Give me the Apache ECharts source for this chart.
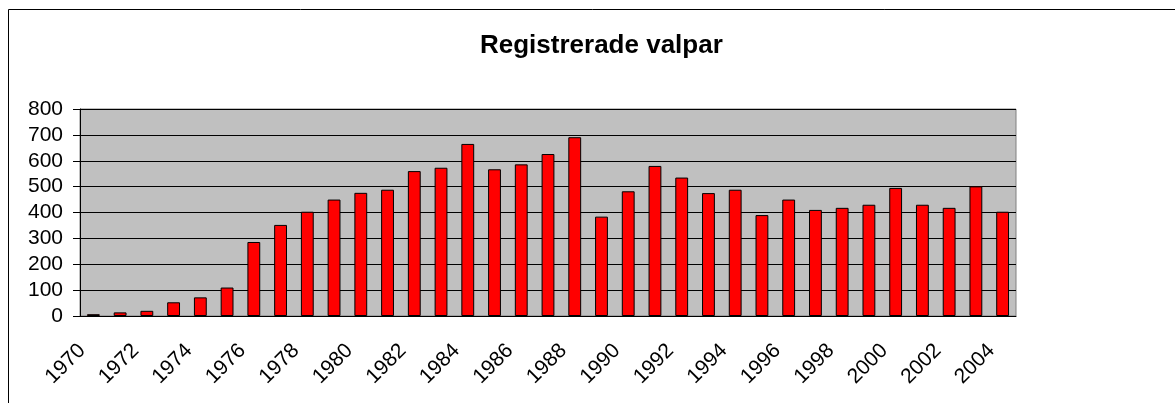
<!DOCTYPE html>
<html>
<head>
<meta charset="utf-8">
<title>Registrerade valpar</title>
<script src="https://cdn.jsdelivr.net/npm/echarts@6/dist/echarts.min.js"></script>
<style>
  html, body { margin: 0; padding: 0; background: #fff; }
  #chart { width: 1175px; height: 403px; }
</style>
</head>
<body>
<div id="chart"></div>
<script>
// år och antal registrerade valpar
const years = ['1970', '1971', '1972', '1973', '1974', '1975', '1976', '1977', '1978', '1979',
  '1980', '1981', '1982', '1983', '1984', '1985', '1986', '1987', '1988', '1989',
  '1990', '1991', '1992', '1993', '1994', '1995', '1996', '1997', '1998', '1999',
  '2000', '2001', '2002', '2003', '2004'];
const puppies = [7, 14, 20, 53, 72, 110, 286, 352, 403, 450,
  476, 488, 560, 573, 665, 567, 586, 626, 691, 384,
  482, 580, 535, 475, 488, 390, 450, 410, 418, 430,
  495, 430, 418, 501, 403];
const yTicks = [0, 100, 200, 300, 400, 500, 600, 700, 800];

const font = "'Liberation Sans', Arial, sans-serif";

let myChart = echarts.init(document.getElementById('chart'));

let option = {
  animation: false,
  textStyle: { fontFamily: font, color: '#000' },
  title: {
    text: 'Registrerade valpar',
    left: 475,
    top: 28,
    textStyle: { fontFamily: font, fontSize: 26, fontWeight: 'bold', color: '#000' }
  },
  // yttre ram
  graphic: [{
    type: 'rect',
    shape: { x: 8.5, y: 9.5, width: 1200, height: 500 },
    style: { fill: 'none', stroke: '#000', lineWidth: 1 },
    silent: true
  }],
  grid: {
    left: 80,
    right: 159,
    top: 109,
    bottom: 87,
    show: true,
    backgroundColor: '#c0c0c0',
    borderColor: '#808080',
    borderWidth: 1
  },
  xAxis: {
    type: 'category',
    data: years,
    axisLine: { lineStyle: { color: '#000', width: 1 } },
    axisTick: { interval: 0, length: 7, lineStyle: { color: '#000' } },
    axisLabel: {
      interval: 1,
      rotate: 45,
      margin: 20,
      padding: [0, 16, 0, 0],
      fontSize: 21,
      fontFamily: font,
      color: '#000'
    }
  },
  yAxis: {
    type: 'value',
    min: yTicks[0],
    max: yTicks[yTicks.length - 1],
    interval: 100,
    axisLine: { show: true, lineStyle: { color: '#000', width: 1 } },
    axisTick: { show: true, length: 7, lineStyle: { color: '#000' } },
    axisLabel: { margin: 17, fontSize: 21, fontFamily: font, color: '#000' },
    splitLine: { lineStyle: { color: '#000', width: 1 } }
  },
  series: [{
    name: 'Registrerade valpar',
    type: 'bar',
    data: puppies,
    barWidth: '48%',
    itemStyle: { color: '#ff0000', borderColor: '#000', borderWidth: 1 }
  }]
};

option && myChart.setOption(option);
</script>
</body>
</html>
